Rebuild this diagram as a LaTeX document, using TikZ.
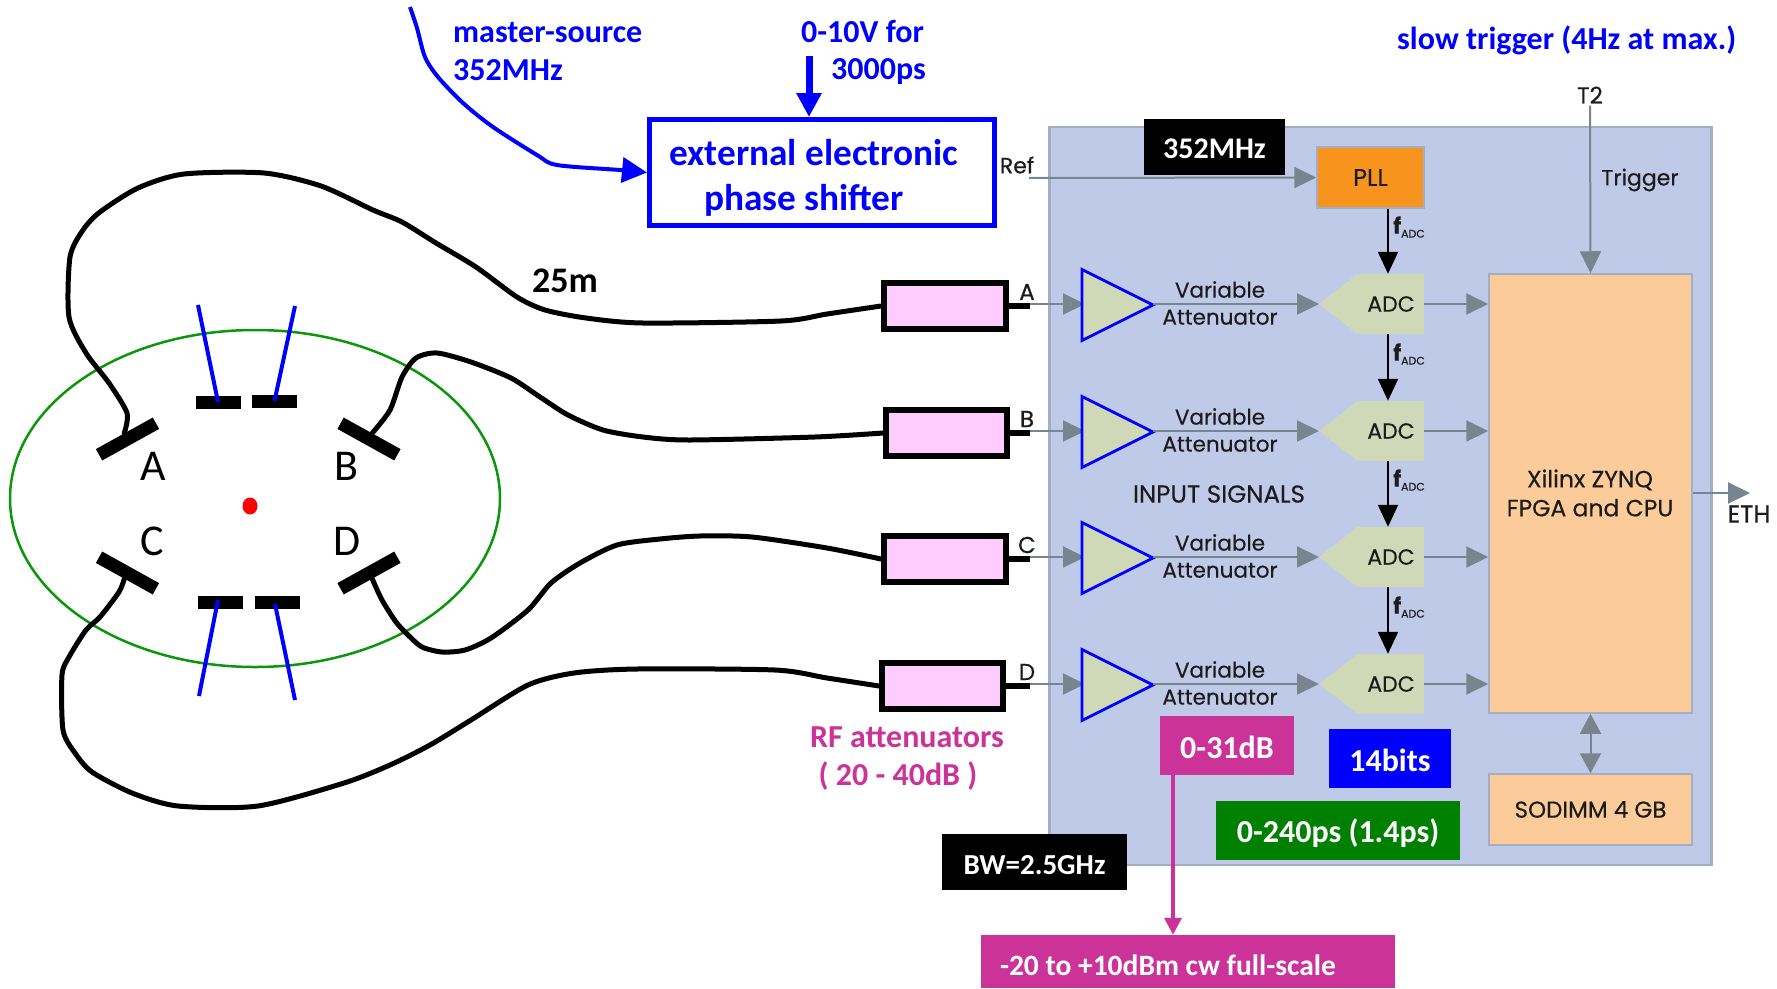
\documentclass[tikz,border=0pt]{standalone}
\usepackage{fontspec}
\setmainfont{Carlito}
\newfontfamily\diagfont[FakeBold=0.4]{Poppins}
\usetikzlibrary{arrows.meta,shapes.geometric}
\definecolor{panelfill}{HTML}{BFCAE8}
\definecolor{panelline}{HTML}{A4ADC4}
\definecolor{greyarrow}{HTML}{78858F}
\definecolor{pinkfill}{HTML}{FFCCFF}
\definecolor{stagefill}{HTML}{CFD9B8}
\definecolor{pllfill}{HTML}{F7941D}
\definecolor{fpgafill}{HTML}{FBCC99}
\definecolor{magentalabel}{HTML}{CC3399}
\definecolor{darkgreen}{HTML}{008000}
\definecolor{ringgreen}{HTML}{0B960B}
\definecolor{inktext}{HTML}{1C1C1C}
\tikzset{
  lbl/.style={inner sep=0pt,align=center},
  bluelbl/.style={lbl,text=blue,font=\fontsize{32}{36}\selectfont\bfseries},
  maglbl/.style={lbl,text=magentalabel,font=\fontsize{32}{36}\selectfont\bfseries},
  tag/.style={inner sep=0pt,text=white,font=\fontsize{32}{34}\selectfont\bfseries,minimum height=#1,text height=26pt,text depth=0pt},
  diag/.style={lbl,text=inktext,font=\diagfont\fontsize{21.5}{27}\selectfont},
  diagsm/.style={lbl,text=inktext,font=\diagfont\fontsize{22}{24}\selectfont},
  block/.style={draw=panelline,line width=1.5pt,inner sep=0pt,text=inktext,align=center,font=\diagfont\fontsize{22}{29}\selectfont},
  plate/.style={fill=black,inner sep=0pt,minimum height=13pt,minimum width=65pt},
  flat/.style={fill=black,inner sep=0pt,minimum height=13pt,minimum width=45pt},
  wirebox/.style={draw=black,line width=6pt,fill=pinkfill,inner sep=0pt,minimum height=46pt},
  cable/.style={draw=black,line width=5pt,line cap=round,line join=round},
  feed/.style={draw=blue,line width=4pt},
  greyline/.style={draw=greyarrow,line width=2pt,-{Triangle[length=22pt,width=21pt,fill=greyarrow]}},
  clockline/.style={draw=black,line width=2pt,-{Triangle[length=22pt,width=20pt,fill=black]}},
  fadc/.style={lbl,text=inktext},
}
\newcommand{\fadctext}{{\diagfont\bfseries\fontsize{22}{22}\selectfont f}{\diagfont\fontsize{11}{11}\selectfont\raisebox{-4pt}{ADC}}}
\begin{document}
\begin{tikzpicture}[x=1pt,y=-1pt]
\useasboundingbox (0,0) rectangle (1777,988);
\fill[white] (0,0) rectangle (1777,988);

% --- right-hand panel
\node[draw=panelline,line width=2.5pt,fill=panelfill,inner sep=0pt,minimum width=662pt,minimum height=738pt] (panel) at (1380.5,496) {};
\node[block,fill=pllfill,minimum width=107pt,minimum height=61pt,font=\diagfont\fontsize{24}{29}\selectfont] (pll) at (1370.5,177.5) {PLL};
\node[block,fill=fpgafill,minimum width=203pt,minimum height=439pt] (fpga) at (1590.5,493.5) {};
\node[diag,font=\diagfont\fontsize{23.5}{29}\selectfont] (fpgatext) at (1590,493) {Xilinx ZYNQ\\FPGA and CPU};
\node[block,fill=fpgafill,minimum width=203pt,minimum height=71pt,font=\diagfont\fontsize{23}{29}\selectfont] (sodimm) at (1590.5,809.5) {SODIMM 4 GB};

% --- four channels
\foreach \n/\y/\ry/\rx/\rw in {A/304/306/945/122,B/431/433/946.5/121,C/557/559/945/122,D/684/686/942.5/121}{
  \node[wirebox,minimum width=\rw pt] (rect\n) at (\rx,\ry) {};
  \coordinate (stub\n) at (1030,\y+2);
  \draw[black,line width=6pt] (rect\n.east |- stub\n) -- (stub\n);
  \coordinate (ampin\n) at (1082,\y);
  \coordinate (ampout\n) at (1153,\y+1);
  \draw[greyline] (stub\n |- ampin\n) -- (1085,\y);
  \draw[fill=stagefill,draw=blue,line width=2.8pt,line join=miter] (1082,\y-34.5) -- (1082,\y+36.5) -- (ampout\n) -- cycle;
  \node[inner sep=0pt,minimum width=66pt,minimum height=60pt,fill=stagefill,text=inktext,font=\diagfont\fontsize{22}{24}\selectfont] (adc\n) at (1391,\y) {ADC};
  \fill[stagefill] (adc\n.north west) -- (1319,\y) -- (adc\n.south west) -- cycle;
  \coordinate (adctip\n) at (1319,\y);
  \draw[greyline] (ampout\n |- adctip\n) -- (adctip\n);
  \draw[greyline] (adc\n.east) -- (fpga.west |- adc\n.east);
  \node[diag] (var\n) at (1220,\y-1) {Variable\\Attenuator};
  \node[fadc,font=\diagfont\fontsize{23}{23}\selectfont] (chan\n) at (1027,\y-12) {\n};
}
\foreach \a/\b/\y in {pll/adcA/227,adcA/adcB/354,adcB/adcC/480,adcC/adcD/607}{
  \draw[clockline] (\a.south -| 1388,0) -- (\b.north -| 1388,0);
  \node[fadc,anchor=west] (f\b) at (1393,\y) {\fadctext};
}

% --- other panel connectors
\coordinate (refstart) at (1029,178);
\draw[greyline] (refstart) -- (pll.west);
\node[diagsm] (reflabel) at (1017,165) {Ref};
\node[diagsm,font=\diagfont\fontsize{23}{23}\selectfont] (t2label) at (1590,95) {T2};
\draw[greyline] (t2label.south) ++(0,2) -- (fpga.north);
\node[diagsm] (triglabel) at (1640,180) {Trigger};
\draw[greyline,{Triangle[length=20pt,width=21pt,fill=greyarrow]}-{Triangle[length=20pt,width=21pt,fill=greyarrow]}] (fpga.south) -- (sodimm.north);
\coordinate (ethtip) at (1750,493);
\draw[greyline] (fpga.east |- ethtip) -- (ethtip);
\node[diagsm,font=\diagfont\fontsize{24.5}{25}\selectfont] (ethlabel) at (1749,514) {ETH};
\node[diagsm,font=\diagfont\fontsize{24.5}{25}\selectfont] (inputlabel) at (1219,494) {INPUT SIGNALS};

% --- coloured tags
\node[tag=56pt,fill=black,minimum width=141pt,font=\fontsize{30}{34}\selectfont\bfseries,text height=22pt] (tagref) at (1214.5,147) {352MHz};
\node[tag=59pt,fill=magentalabel,minimum width=134pt] (tagatt) at (1227,745.5) {0-31dB};
\node[tag=59pt,fill=blue,minimum width=122pt] (tagbits) at (1390,758.5) {14bits};
\node[tag=59pt,fill=darkgreen,minimum width=244pt,text height=24pt] (tagps) at (1338,830.5) {0-240ps (1.4ps)};
\node[tag=56pt,fill=black,minimum width=185pt,font=\fontsize{29}{34}\selectfont\bfseries,text height=24pt] (tagbw) at (1034.5,862) {BW=2.5GHz};
\node[tag=53pt,fill=magentalabel,minimum width=414pt,font=\fontsize{29.5}{34}\selectfont\bfseries,text height=28pt] (tagscale) at (1188,961.5) {\makebox[376pt][l]{-20 to +10dBm cw full-scale}};
\draw[magentalabel,line width=3.5pt,-{Triangle[length=17pt,width=17pt,fill=magentalabel]}] (tagatt.south -| 1173,0) -- (tagscale.north -| 1173,0);

\node[maglbl] (rfa) at (907,737) {RF attenuators};
\node[maglbl] (rfb) at (898,776) {( 20 - 40dB )};

% --- shifter and its inputs
\node[draw=blue,line width=5pt,inner sep=0pt,minimum width=345pt,minimum height=106pt] (shifter) at (822,172.5) {};
\node[bluelbl,font=\fontsize{37.3}{40}\selectfont\bfseries] (shifta) at (814,153) {external electronic};
\node[bluelbl,font=\fontsize{37.3}{40}\selectfont\bfseries] (shiftb) at (804,200) {phase shifter};
\coordinate (srcstart) at (410,7);
\draw[feed,-{Triangle[length=25pt,width=25pt,fill=blue]}] plot[smooth,tension=.5] coordinates {(srcstart) (417,28) (425,57) (438,77) (463,103) (493,127) (537,155) (557,165) (620,170) (shifter.west)};
\coordinate (voltstart) at (809,56);
\draw[blue,line width=7pt,-{Triangle[length=24pt,width=24pt,fill=blue]}] (voltstart) -- (voltstart |- shifter.north);
\node[bluelbl,anchor=west] (srca) at (453,33) {master-source};
\node[bluelbl,anchor=west] (srcb) at (453,70) {352MHz};
\node[bluelbl,anchor=west] (volta) at (801,31) {0-10V for};
\node[bluelbl,anchor=west] (voltb) at (831,72) {3000ps};
\node[bluelbl,anchor=west] (slow) at (1397,40) {slow trigger (4Hz at max.)};
\node[lbl,font=\fontsize{36}{36}\selectfont\bfseries] (len) at (565,281) {25m};

% --- beam pipe
\node[draw=ringgreen,line width=2.5pt,ellipse,inner sep=0pt,minimum width=490pt,minimum height=337pt] (pipe) at (255,498.5) {};
\node[fill=red,ellipse,inner sep=0pt,minimum width=15pt,minimum height=17pt] (beam) at (250,506) {};
\node[plate,rotate=29] (plateA) at (127.5,439) {};
\node[plate,rotate=-29] (plateB) at (369,439) {};
\node[plate,rotate=-29] (plateC) at (127.5,573) {};
\node[plate,rotate=29] (plateD) at (369,573) {};
\node[flat] (flatTL) at (218,402) {};
\node[flat] (flatTR) at (274.5,401) {};
\node[flat] (flatBL) at (220.5,602) {};
\node[flat] (flatBR) at (277,602) {};
\coordinate (endTL) at (198,305);
\coordinate (endTR) at (295,306);
\coordinate (endBL) at (199,696);
\coordinate (endBR) at (295,700);
\draw[feed] (endTL) -- (flatTL.center);
\draw[feed] (endTR) -- (flatTR.center);
\draw[feed] (endBL) -- (218,600);
\draw[feed] (endBR) -- (275,604);
\node[lbl,font=\fontsize{44}{44}\selectfont] (labA) at (153,466) {A};
\node[lbl,font=\fontsize{44}{44}\selectfont] (labB) at (346,466) {B};
\node[lbl,font=\fontsize{44}{44}\selectfont] (labC) at (152,541) {C};
\node[lbl,font=\fontsize{44}{44}\selectfont] (labD) at (347,541) {D};

% --- cables
\draw[cable] plot[smooth,tension=.45] coordinates {(plateA.north) (127,413) (109,383) (86,353) (69,317) (70,257) (83,230) (100,212) (138,188) (184,174) (264,173) (321,186) (373,210) (402,222) (436,243) (476,267) (517,297) (545,310) (586,318) (643,323) (781,321) (827,314) (rectA.west)};
\draw[cable] plot[smooth,tension=.45] coordinates {(plateB.north) (390,410) (402,377) (416,358) (437,353) (471,362) (511,378) (540,397) (568,415) (603,430) (643,437) (689,440) (815,437) (rectB.west)};
\draw[cable] plot[smooth,tension=.45] coordinates {(plateC.south) (119,592) (100,617) (86,630) (69,657) (62,675) (63,730) (75,753) (92,772) (132,793) (178,806) (258,806) (344,783) (390,765) (430,745) (471,720) (528,685) (574,673) (637,669) (775,670) (827,678) (rectD.west)};
\draw[cable] plot[smooth,tension=.45] coordinates {(plateD.south) (382,600) (396,622) (408,635) (422,647) (442,652) (465,650) (491,638) (528,610) (551,583) (580,563) (617,545) (660,539) (700,536) (752,537) (827,548) (rectC.west)};
\end{tikzpicture}
\end{document}
